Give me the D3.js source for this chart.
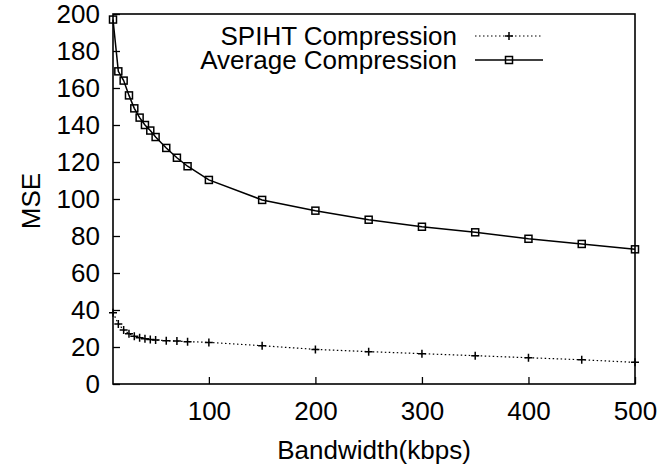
<!DOCTYPE html>
<html>
<head>
<meta charset="utf-8">
<script src="https://cdn.jsdelivr.net/npm/d3@7"></script>
<style>
  body { margin: 0; background: #fff; }
  text { font-family: "Liberation Sans", Arial, sans-serif; fill: #000; }
</style>
</head>
<body>
<div id="chart"></div>
<script>
// data
var bandwidth = [10, 15, 20, 25, 30, 35, 40, 45, 50, 60, 70, 80, 100,
                 150, 200, 250, 300, 350, 400, 450, 500];
var spiht = [38.5, 32.5, 29.2, 27.2, 25.8, 25.0, 24.5, 24.1, 23.8, 23.4, 23.2, 22.9, 22.5,
             20.7, 18.7, 17.5, 16.4, 15.3, 14.2, 13.1, 11.7];
var average = [197, 169, 164, 156, 149, 144, 140, 137, 133.5, 127.6, 122.3, 117.7, 110.3,
               99.5, 93.7, 88.8, 85, 82, 78.5, 75.7, 72.8];
var xTicks = [100, 200, 300, 400, 500];
var yTicks = [0, 20, 40, 60, 80, 100, 120, 140, 160, 180, 200];
var seriesNames = ["SPIHT Compression", "Average Compression"];

var W = 662, H = 467;
var margin = {top: 14, right: 27, bottom: 83, left: 113},
    width = W - margin.left - margin.right,
    height = H - margin.top - margin.bottom;
var fontSize = "26px";

var x = d3.scaleLinear().domain([10, 500]).range([0, width]);
var y = d3.scaleLinear().domain([0, 200]).range([height, 0]);

var svg = d3.select("#chart").append("svg")
    .attr("width", W)
    .attr("height", H)
  .append("g")
    .attr("transform", "translate(" + margin.left + "," + margin.top + ")");

// axes, ticks pointing inward
var xAxis = svg.append("g")
    .attr("transform", "translate(0," + height + ")")
    .call(d3.axisBottom(x).tickValues(xTicks).tickSizeInner(-7).tickSizeOuter(0).tickPadding(18));
var yAxis = svg.append("g")
    .call(d3.axisLeft(y).tickValues(yTicks).tickSizeInner(-7).tickSizeOuter(0).tickPadding(13));

[xAxis, yAxis].forEach(function(a) {
  a.select(".domain").remove();
  a.selectAll("line").attr("stroke", "#000").attr("stroke-width", 1.3);
  a.selectAll("text").style("font-size", fontSize).style("font-family", "Liberation Sans, Arial, sans-serif");
});

// border box
svg.append("rect")
    .attr("width", width)
    .attr("height", height)
    .attr("fill", "none")
    .attr("stroke", "#000")
    .attr("stroke-width", 1.6);

// axis titles
svg.append("text")
    .attr("x", width / 2)
    .attr("y", height + 75)
    .style("text-anchor", "middle")
    .style("font-size", fontSize)
    .text("Bandwidth(kbps)");
svg.append("text")
    .attr("transform", "rotate(-90)")
    .attr("x", -(height / 2) - 2)
    .attr("y", -margin.left + 40)
    .style("text-anchor", "middle")
    .style("font-size", fontSize)
    .text("MSE");

var line = d3.line()
    .x(function(d) { return x(d[0]); })
    .y(function(d) { return y(d[1]); });

var spihtData = bandwidth.map(function(b, i) { return [b, spiht[i]]; });
var avgData = bandwidth.map(function(b, i) { return [b, average[i]]; });

// SPIHT dotted line with + markers
svg.append("path")
    .datum(spihtData)
    .attr("fill", "none")
    .attr("stroke", "#000")
    .attr("stroke-width", 1.2)
    .attr("stroke-dasharray", "1.5,2.5")
    .attr("d", line);

function plus(g, cx, cy) {
  g.append("path")
      .attr("d", "M" + (cx - 4) + "," + cy + "H" + (cx + 4) + "M" + cx + "," + (cy - 4) + "V" + (cy + 4))
      .attr("stroke", "#000")
      .attr("stroke-width", 1.5);
}
function square(g, cx, cy) {
  g.append("rect")
      .attr("x", cx - 3.5).attr("y", cy - 3.5)
      .attr("width", 7).attr("height", 7)
      .attr("fill", "none")
      .attr("stroke", "#000")
      .attr("stroke-width", 1.5);
}

var plusG = svg.append("g");
spihtData.forEach(function(d) { plus(plusG, x(d[0]), y(d[1])); });

// Average solid line with square markers
svg.append("path")
    .datum(avgData)
    .attr("fill", "none")
    .attr("stroke", "#000")
    .attr("stroke-width", 1.5)
    .attr("d", line);

var sqG = svg.append("g");
avgData.forEach(function(d) { square(sqG, x(d[0]), y(d[1])); });

// legend
var legend = svg.append("g");
var legX = 344, sx0 = 362, sx1 = 430;
seriesNames.forEach(function(name, i) {
  var ly = 22 + i * 24;
  legend.append("text")
      .attr("x", legX)
      .attr("y", ly + 9)
      .style("text-anchor", "end")
      .style("font-size", fontSize)
      .text(name);
  var lp = legend.append("path")
      .attr("d", "M" + sx0 + "," + ly + "H" + sx1)
      .attr("fill", "none")
      .attr("stroke", "#000");
  if (i === 0) {
    lp.attr("stroke-width", 1.2).attr("stroke-dasharray", "1.5,2.5");
    plus(legend, (sx0 + sx1) / 2, ly);
  } else {
    lp.attr("stroke-width", 1.5);
    square(legend, (sx0 + sx1) / 2, ly);
  }
});
</script>
</body>
</html>
